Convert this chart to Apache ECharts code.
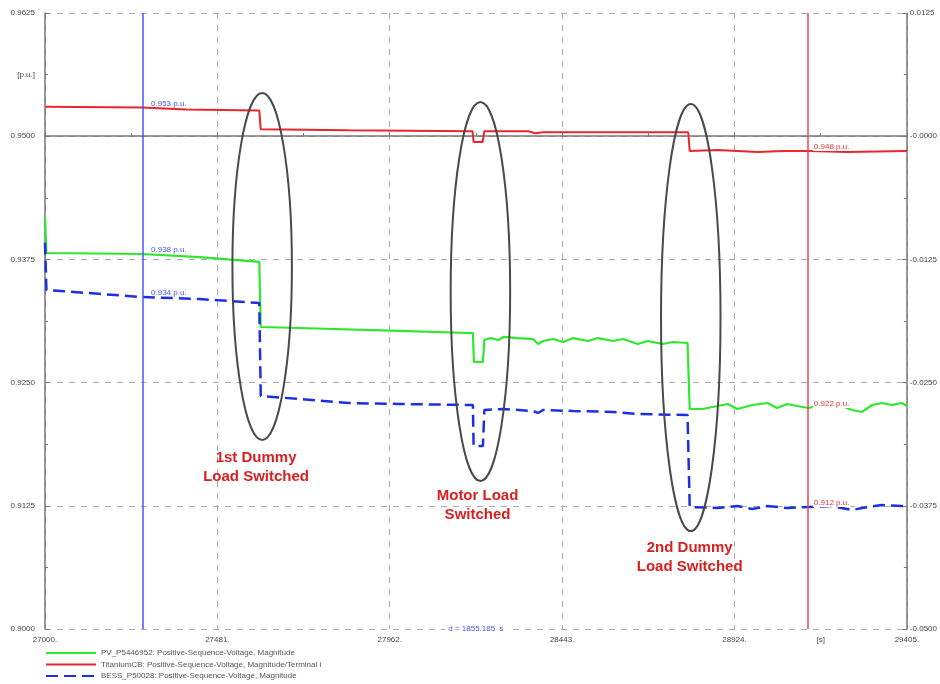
<!DOCTYPE html>
<html>
<head>
<meta charset="utf-8">
<script src="https://cdn.jsdelivr.net/npm/echarts@6/dist/echarts.min.js"></script>
<style>
html, body { margin: 0; padding: 0; background: #fff; }
#showcase { width: 940px; height: 684px; }
</style>
</head>
<body>
<div id="showcase"></div>
<script>
// 时间轴 (s)
var xMin = 27000, xMax = 29405, xStep = 481;
var yMin = 0.9, yMax = 0.9625, yStep = 0.0125;
var y2Min = -0.05, y2Max = 0.0125;

var nameRed = "TitaniumCB: Positive-Sequence-Voltage, Magnitude/Terminal i";
var nameGreen = "PV_P5446952: Positive-Sequence-Voltage, Magnitude";
var nameBlue = "BESS_P50028: Positive-Sequence-Voltage, Magnitude";

// TitaniumCB
var redT = [27000, 27272, 27395, 27598, 27602, 27848, 28182, 28193, 28196, 28221, 28226, 28349, 28368, 28390,
    28543, 28654, 28795, 28799, 28877, 28988, 29060, 29130, 29240, 29405];
var redV = [0.9530, 0.9529, 0.9527, 0.9526, 0.9507, 0.9506, 0.9505, 0.9505, 0.9494, 0.9494, 0.9505, 0.9505, 0.9503, 0.9504,
    0.9504, 0.9504, 0.9504, 0.9485, 0.9486, 0.9484, 0.9485, 0.9485, 0.9484, 0.9485];

// PV
var greenT = [27000, 27004, 27272, 27431, 27598, 27602, 27709, 27987, 28182, 28194, 28197, 28222, 28226, 28243,
    28265, 28279, 28321, 28362, 28376, 28390, 28418, 28446, 28474, 28515, 28543, 28585, 28613, 28654, 28682,
    28724, 28752, 28793, 28799, 28835, 28877, 28905, 28932, 28974, 29016, 29043, 29071, 29099, 29130, 29168,
    29196, 29224, 29252, 29280, 29308, 29335, 29363, 29391, 29405];
var greenV = [0.9418, 0.93815, 0.93805, 0.93774, 0.93724, 0.93064, 0.93054, 0.93024, 0.93003, 0.93003, 0.92709, 0.92709, 0.92932, 0.92952,
    0.92932, 0.92963, 0.92952, 0.92942, 0.92892, 0.92922, 0.92942, 0.92912, 0.92952, 0.92922, 0.92952, 0.92922, 0.92942, 0.92892, 0.92922,
    0.92892, 0.92912, 0.92902, 0.92232, 0.92232, 0.92263, 0.92283, 0.92232, 0.92273, 0.92293, 0.92242, 0.92283, 0.92263, 0.92242, 0.92273,
    0.92283, 0.92263, 0.92222, 0.92202, 0.92273, 0.92293, 0.92273, 0.92293, 0.92263];

// BESS
var blueT = [27000, 27004, 27272, 27431, 27598, 27602, 27709, 27848, 27987, 28182, 28194, 28196, 28222, 28226,
    28279, 28362, 28376, 28390, 28474, 28585, 28654, 28793, 28799, 28877, 28932, 28974, 29016, 29071, 29130,
    29196, 29252, 29280, 29335, 29391, 29405];
var blueV = [0.9392, 0.9344, 0.93368, 0.93348, 0.93308, 0.92364, 0.92334, 0.92293, 0.92283, 0.92273, 0.92273, 0.91857, 0.91857, 0.92222,
    0.92232, 0.92212, 0.92192, 0.92222, 0.92212, 0.92202, 0.92181, 0.92171, 0.91238, 0.91228, 0.91248, 0.91218, 0.91248, 0.91228, 0.91238,
    0.91248, 0.91207, 0.91228, 0.91258, 0.91248, 0.91248];

// 光标
var cursorBlue = 27273.5;
var cursorRed = 29128.685;
var cursorDiff = "d = 1855.185  s";
var blueLabels = ["0.953 p.u.", "0.938 p.u.", "0.934 p.u."];
var redLabels = ["0.948 p.u.", "0.922 p.u.", "0.912 p.u."];

// 标注 (时间, 电压)
var notes = [
    {text: "1st Dummy\nLoad Switched", t: 27589, v: 0.91639},
    {text: "Motor Load\nSwitched", t: 28207, v: 0.91258},
    {text: "2nd Dummy\nLoad Switched", t: 28799, v: 0.90731}
];
var rings = [
    {t: 27606, v: 0.93678, dt: 83, dv: 0.0176},
    {t: 28215, v: 0.93424, dt: 83, dv: 0.01923},
    {t: 28802, v: 0.93160, dt: 83, dv: 0.02166}
];

function zip(ts, vs) {
    var out = [];
    for (var i = 0; i < ts.length; i++) out.push([ts[i], vs[i]]);
    return out;
}
function valueAt(ts, vs, t) {
    for (var i = 1; i < ts.length; i++) {
        if (ts[i] >= t) {
            var k = (t - ts[i - 1]) / (ts[i] - ts[i - 1]);
            return vs[i - 1] + k * (vs[i] - vs[i - 1]);
        }
    }
    return vs[vs.length - 1];
}

var font = "Liberation Sans";
var myChart = echarts.init(document.getElementById("showcase"));
var options = {
    animation: false,
    backgroundColor: "#fff",
    textStyle: {fontFamily: font},
    grid: {left: 45, right: 30, top: 13, bottom: 55},
    legend: {
        orient: "vertical",
        left: 45,
        top: 649,
        padding: 0,
        itemWidth: 50,
        itemHeight: 9,
        itemGap: 3.5,
        itemStyle: {opacity: 0},
        textStyle: {fontSize: 8, color: "#555"},
        data: [nameGreen, nameRed, nameBlue]
    },
    xAxis: {
        type: "value",
        min: xMin,
        max: xMax,
        interval: xStep,
        axisLine: {lineStyle: {color: "#777", width: 1.5}},
        axisTick: {inside: true, length: 4, lineStyle: {color: "#777"}},
        minorTick: {show: true, splitNumber: 2, length: 3, lineStyle: {color: "#777"}},
        splitLine: {show: true, lineStyle: {type: [6, 6], color: "#aaa"}},
        axisLabel: {fontSize: 8, color: "#444", margin: 7, formatter: function (v) { return v + "."; }}
    },
    yAxis: [{
        type: "value",
        min: yMin,
        max: yMax,
        interval: yStep,
        axisLine: {show: true, lineStyle: {color: "#777", width: 1.5}},
        axisTick: {show: true, inside: true, length: 4, lineStyle: {color: "#777"}},
        minorTick: {show: true, splitNumber: 2, length: 3, lineStyle: {color: "#777"}},
        splitLine: {show: true, lineStyle: {type: [6, 6], color: "#aaa"}},
        axisLabel: {fontSize: 8, color: "#444", margin: 10, formatter: function (v) { return v.toFixed(4); }}
    }, {
        type: "value",
        position: "right",
        min: y2Min,
        max: y2Max,
        interval: yStep,
        axisLine: {show: true, onZero: false, lineStyle: {color: "#777", width: 1.5}},
        axisTick: {show: true, inside: true, length: 4, lineStyle: {color: "#777"}},
        minorTick: {show: true, splitNumber: 2, length: 3, lineStyle: {color: "#777"}},
        splitLine: {show: false},
        axisLabel: {fontSize: 8, color: "#444", margin: 3, formatter: function (v) {
            return Math.abs(v) < 1e-9 ? "-0.0000" : v.toFixed(4);
        }}
    }],
    series: [
        {
            name: nameRed,
            type: "line",
            symbol: "none",
            data: zip(redT, redV),
            lineStyle: {color: "#e8262b", width: 2},
            itemStyle: {color: "#e8262b"},
            markLine: {
                silent: true,
                symbol: ["none", "none"],
                label: {show: false},
                lineStyle: {type: "solid", color: "#ee4455", width: 1.5},
                data: [{xAxis: cursorRed}]
            },
            z: 3
        },
        {
            name: nameGreen,
            type: "line",
            symbol: "none",
            data: zip(greenT, greenV),
            lineStyle: {color: "#2ee82e", width: 2.2},
            itemStyle: {color: "#2ee82e"},
            z: 3
        },
        {
            name: nameBlue,
            type: "line",
            symbol: "none",
            data: zip(blueT, blueV),
            lineStyle: {color: "#1d2fe0", width: 2.5, type: [12, 6]},
            itemStyle: {color: "#1d2fe0"},
            markLine: {
                silent: true,
                symbol: ["none", "none"],
                label: {show: false},
                lineStyle: {type: "solid", color: "#4a55ff", width: 1.5},
                data: [{xAxis: cursorBlue}]
            },
            z: 3
        }
    ]
};

myChart.setOption(options);

// 标注图形
function px(t, v) {
    return myChart.convertToPixel({seriesIndex: 0}, [t, v]);
}
var graphics = [];
rings.forEach(function (r) {
    var c = px(r.t, r.v);
    var e = px(r.t + r.dt, r.v + r.dv);
    graphics.push({
        type: "ellipse",
        z: 10,
        shape: {cx: c[0], cy: c[1], rx: Math.abs(e[0] - c[0]), ry: Math.abs(c[1] - e[1])},
        style: {fill: "none", stroke: "#4a4a4a", lineWidth: 2}
    });
});
notes.forEach(function (n) {
    var p = px(n.t, n.v);
    graphics.push({
        type: "text",
        z: 10,
        x: p[0],
        y: p[1],
        style: {text: n.text, fill: "#d92020", fontSize: 15, fontWeight: "bold", fontFamily: font,
            align: "center", verticalAlign: "middle", lineHeight: 19}
    });
});
var seriesT = [redT, greenT, blueT], seriesV = [redV, greenV, blueV];
function cursorLabels(t, texts, color, dx) {
    texts.forEach(function (txt, i) {
        var p = px(t, valueAt(seriesT[i], seriesV[i], t));
        graphics.push({
            type: "text",
            z: 11,
            x: p[0] + dx,
            y: p[1] - 4,
            style: {text: txt, fill: color, fontSize: 8, fontFamily: font, align: "left", verticalAlign: "middle",
                backgroundColor: color === "#ee3333" ? "#fff" : null, padding: [0, 1]}
        });
    });
}
cursorLabels(cursorBlue, blueLabels, "#4455ee", 7);
cursorLabels(cursorRed, redLabels, "#ee3333", 5);

var pu = px(xMin, yMax - yStep / 2);
graphics.push({type: "text", z: 11, x: pu[0] - 10, y: pu[1],
    style: {text: "[p.u.]", fill: "#444", fontSize: 8, fontFamily: font, align: "right", verticalAlign: "middle"}});
var sx = px(xMax - xStep / 2, yMin);
graphics.push({type: "text", z: 11, x: sx[0], y: sx[1] + 11,
    style: {text: "[s]", fill: "#444", fontSize: 8, fontFamily: font, align: "center", verticalAlign: "middle"}});
var dp = px(xMin + xStep * 2.5, yMin);
graphics.push({type: "text", z: 11, x: dp[0], y: dp[1],
    style: {text: cursorDiff, fill: "#4455ee", fontSize: 8, fontFamily: font, align: "center", verticalAlign: "middle",
        backgroundColor: "#fff", padding: [1, 3]}});

myChart.setOption({graphic: graphics});
</script>
</body>
</html>
